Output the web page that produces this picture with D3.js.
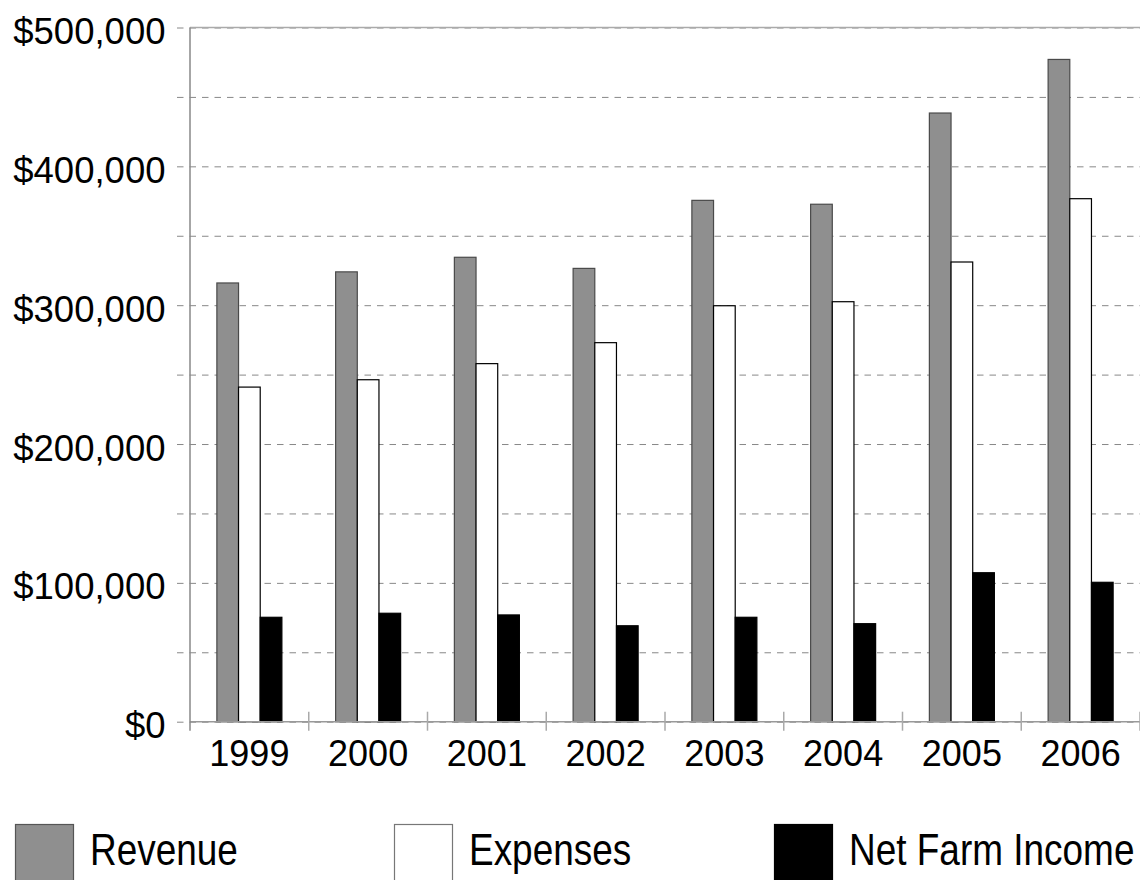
<!DOCTYPE html>
<html><head><meta charset="utf-8">
<script src="https://cdn.jsdelivr.net/npm/d3@7"></script>
<style>
body{margin:0;background:#fff}
svg{display:block}
text{font-family:"Liberation Sans",Arial,Helvetica,sans-serif;fill:#000}
</style>
</head><body>
<svg id="chart" width="1140" height="880"></svg>
<script>
const years = ["1999","2000","2001","2002","2003","2004","2005","2006"];
const revenue = [316000,324000,334500,326500,375500,372700,438400,477000];
const expenses = [241000,246300,257900,273000,299600,302500,331100,376700];
const netIncome = [75200,78100,76900,69100,75200,70600,107300,100400];
const seriesNames = ["Revenue","Expenses","Net Farm Income"];
const seriesFill = ["#8f8f8f","#ffffff","#000000"];
const seriesStroke = ["#4a4a4a","#000000","#000000"];
const yTicks = [0,50000,100000,150000,200000,250000,300000,350000,400000,450000,500000];
const yLabelTicks = [0,100000,200000,300000,400000,500000];

(function(){
const svg = d3.select("#chart");
const pLeft = 190, pRight = 1140, pTop = 27.5, pBottom = 721.7;

const x0 = d3.scaleBand().domain(years).range([pLeft, pRight]).paddingInner(0).paddingOuter(0);
const x1 = d3.scaleBand().domain(seriesNames).range([0, x0.bandwidth()]).paddingInner(0).paddingOuter(1.24);
const y = d3.scaleLinear().domain([0, 500000]).range([pBottom, pTop]);

// grid / y axis
const yAxis = d3.axisLeft(y).tickValues(yTicks).tickSize(-(pRight-pLeft)).tickSizeOuter(0)
  .tickFormat(d => yLabelTicks.includes(d) ? "$" + d3.format(",")(d) : "");
const gy = svg.append("g").attr("transform", `translate(${pLeft},0)`).call(yAxis);
gy.select(".domain").remove();
gy.selectAll(".tick line")
  .attr("x1", -13).attr("x2", pRight-pLeft)
  .attr("stroke", "#888").attr("stroke-width", 1).attr("stroke-dasharray", "6.5,6");
gy.selectAll(".tick text")
  .attr("x", -24.5).attr("dy", null).attr("y", 16)
  .style("font-size", "36.5px").style("font-family", '"Liberation Sans",Arial,sans-serif').attr("fill", "#000");

// solid top border
svg.append("line").attr("x1", pLeft).attr("x2", pRight).attr("y1", y(500000)).attr("y2", y(500000))
  .attr("stroke", "#aaa").attr("stroke-width", 1.5);

// bars
const series = [revenue, expenses, netIncome];
const groups = svg.append("g").selectAll("g").data(years).join("g")
  .attr("transform", d => `translate(${x0(d)},0)`);
groups.selectAll("rect").data((d, i) => seriesNames.map((s, k) => ({s, k, v: series[k][i]}))).join("rect")
  .attr("x", d => x1(d.s))
  .attr("width", x1.bandwidth())
  .attr("y", d => y(d.v))
  .attr("height", d => y(0) - y(d.v))
  .attr("fill", d => seriesFill[d.k])
  .attr("stroke", d => seriesStroke[d.k])
  .attr("stroke-width", 1.2);

// x axis
svg.append("line").attr("x1", pLeft).attr("x2", pRight).attr("y1", y(0)).attr("y2", y(0))
  .attr("stroke", "#999").attr("stroke-width", 1.5);
svg.append("line").attr("x1", pLeft).attr("x2", pLeft).attr("y1", pTop).attr("y2", y(0) + 9)
  .attr("stroke", "#888").attr("stroke-width", 1.5);
const xAxis = d3.axisBottom(x0).tickSize(0).tickSizeOuter(0);
const gx = svg.append("g").attr("transform", `translate(0,${y(0)})`).call(xAxis);
gx.select(".domain").remove();
gx.selectAll(".tick text").attr("y", 44).attr("dy", null)
  .style("font-size", "36px").style("font-family", '"Liberation Sans",Arial,sans-serif').attr("fill", "#000");
svg.append("g").selectAll("line").data(years.slice(1).concat(["end"])).join("line")
  .attr("x1", d => d === "end" ? pRight : x0(d)).attr("x2", d => d === "end" ? pRight : x0(d))
  .attr("y1", y(0) - 10).attr("y2", y(0) + 9)
  .attr("stroke", "#aaa").attr("stroke-width", 1.5);

// legend
const legendX = [15, 394, 774];
const leg = svg.append("g").selectAll("g").data(seriesNames).join("g")
  .attr("transform", (d, i) => `translate(${legendX[i]},824)`);
leg.append("rect").attr("x", 0.5).attr("y", 0.5).attr("width", 58).attr("height", 80)
  .attr("fill", (d, i) => seriesFill[i])
  .attr("stroke", (d, i) => i === 0 ? "#555" : (i === 1 ? "#777" : "#000"))
  .attr("stroke-width", 1.2);
leg.append("text")
  .attr("transform", "translate(75,41) scale(0.84,1)")
  .style("font-size", "44px")
  .text(d => d);
})();
</script>
</body></html>
